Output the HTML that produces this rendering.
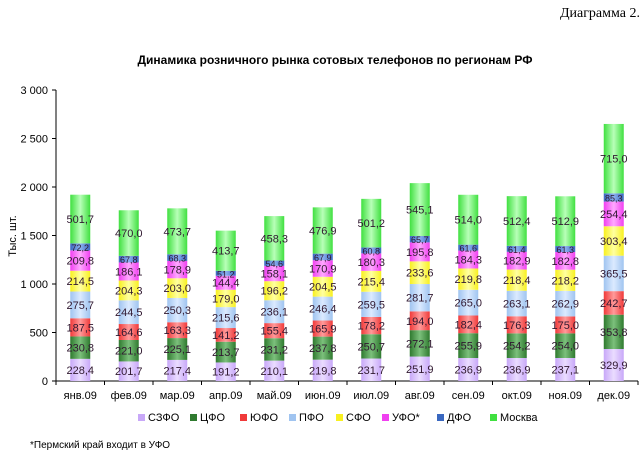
<!DOCTYPE html>
<html><head><meta charset="utf-8"><style>
body{margin:0;background:#fff;width:644px;height:456px;overflow:hidden;font-family:"Liberation Sans",sans-serif}
</style></head><body>
<svg width="644" height="456" xmlns="http://www.w3.org/2000/svg">
<defs id="defs"></defs>
<text x="640" y="17" text-anchor="end" font-family="Liberation Serif" font-size="14">Диаграмма 2.</text>
<text x="335" y="64" text-anchor="middle" font-size="12" font-weight="bold">Динамика розничного рынка сотовых телефонов по регионам РФ</text>
<text transform="translate(16,236) rotate(-90)" text-anchor="middle" font-size="11">Тыс. шт.</text>
<g id="plot"></g>
<text x="30" y="448" font-size="10">*Пермский край входит в УФО</text>
</svg>
<script>
const months=["янв.09","фев.09","мар.09","апр.09","май.09","июн.09","июл.09","авг.09","сен.09","окт.09","ноя.09","дек.09"];
const seriesNames=["СЗФО","ЦФО","ЮФО","ПФО","СФО","УФО*","ДФО","Москва"];
const szfo=[228.4,201.7,217.4,191.2,210.1,219.8,231.7,251.9,236.9,236.9,237.1,329.9];
const cfo=[230.8,221.0,225.1,213.7,231.2,237.8,250.7,272.1,255.9,254.2,254.0,353.8];
const yufo=[187.5,164.6,163.3,141.2,155.4,165.9,178.2,194.0,182.4,176.3,175.0,242.7];
const pfo=[275.7,244.5,250.3,215.6,236.1,246.4,259.5,281.7,265.0,263.1,262.9,365.5];
const sfo=[214.5,204.3,203.0,179.0,196.2,204.5,215.4,233.6,219.8,218.4,218.2,303.4];
const ufo=[209.8,186.1,178.9,144.4,158.1,170.9,180.3,195.8,184.3,182.9,182.8,254.4];
const dfo=[72.2,67.8,68.3,51.2,54.6,67.9,60.8,65.7,61.6,61.4,61.3,85.3];
const moscow=[501.7,470.0,473.7,413.7,458.3,476.9,501.2,545.1,514.0,512.4,512.9,715.0];
const yTicks=[0,500,1000,1500,2000,2500,3000];
const yTickLabels=["0","500","1 000","1 500","2 000","2 500","3 000"];
const series=[szfo,cfo,yufo,pfo,sfo,ufo,dfo,moscow];
const colors=[["#c8a8f8","#eadcff"],["#2f7a2f","#7cc07c"],["#f03a3a","#ff9a9a"],["#a0c4f0","#dbeaff"],["#f8f020","#ffffa0"],["#f040f0","#ffa8ff"],["#3a68c0","#8cb0f0"],["#40e040","#b8ffb8"]];
const NS="http://www.w3.org/2000/svg";
const x0=56,x1=638,y0=381,yMax=3000,yTop=90;
const bw=(x1-x0)/months.length;
const Y=v=>y0-(v/yMax)*(y0-yTop);
const X=i=>x0+bw*(i+0.5);
const plot=document.getElementById('plot'),defs=document.getElementById('defs');
function mk(t,a,p){const e=document.createElementNS(NS,t);for(const k in a)e.setAttribute(k,a[k]);(p||plot).appendChild(e);return e;}
colors.forEach((c,k)=>{const g=mk('linearGradient',{id:'g'+k,x1:0,x2:1,y1:0,y2:0},defs);
mk('stop',{offset:'0','stop-color':c[0]},g);mk('stop',{offset:'0.5','stop-color':c[1]},g);mk('stop',{offset:'1','stop-color':c[0]},g);});
// axes
const ya=mk('line',{x1:x0,y1:yTop,x2:x0,y2:y0,stroke:'#000'});

const xa=mk('line',{x1:x0,y1:y0,x2:x1,y2:y0,stroke:'#000'});

yTicks.forEach((v,i)=>{mk('line',{x1:x0-4,x2:x0,y1:Y(v),y2:Y(v),stroke:'#000'});
const t=mk('text',{x:x0-8,y:Y(v)+4,'text-anchor':'end','font-size':11});t.textContent=yTickLabels[i];
});
for(let i=0;i<=months.length;i++)mk('line',{x1:x0+bw*i,x2:x0+bw*i,y1:y0,y2:y0+4,stroke:'#000'});
months.forEach((m,i)=>{
 const t=mk('text',{x:X(i),y:y0+18,'text-anchor':'middle','font-size':11});t.textContent=m;
 
 let base=0;
 series.forEach((s,k)=>{const v=s[i];
  const r=mk('rect',{x:X(i)-10,width:20,y:Y(base+v),height:Y(base)-Y(base+v),fill:'url(#g'+k+')'});
  
  const l=mk('text',{x:X(i),y:(Y(base)+Y(base+v))/2+4,'text-anchor':'middle','font-size':k==6?9:11,fill:'#301830'});
  l.textContent=v.toFixed(1).replace('.',',');
  
  base+=v;});
});
// legend
const lx=[138,190,240,289,336,382,437,490];
seriesNames.forEach((n,k)=>{
 const g=mk('g',{});
 mk('rect',{x:lx[k],y:414,width:7,height:7,fill:colors[k][0]},g);
 const t=mk('text',{x:lx[k]+10,y:421,'font-size':11},g);t.textContent=n;});
</script>
</body></html>
